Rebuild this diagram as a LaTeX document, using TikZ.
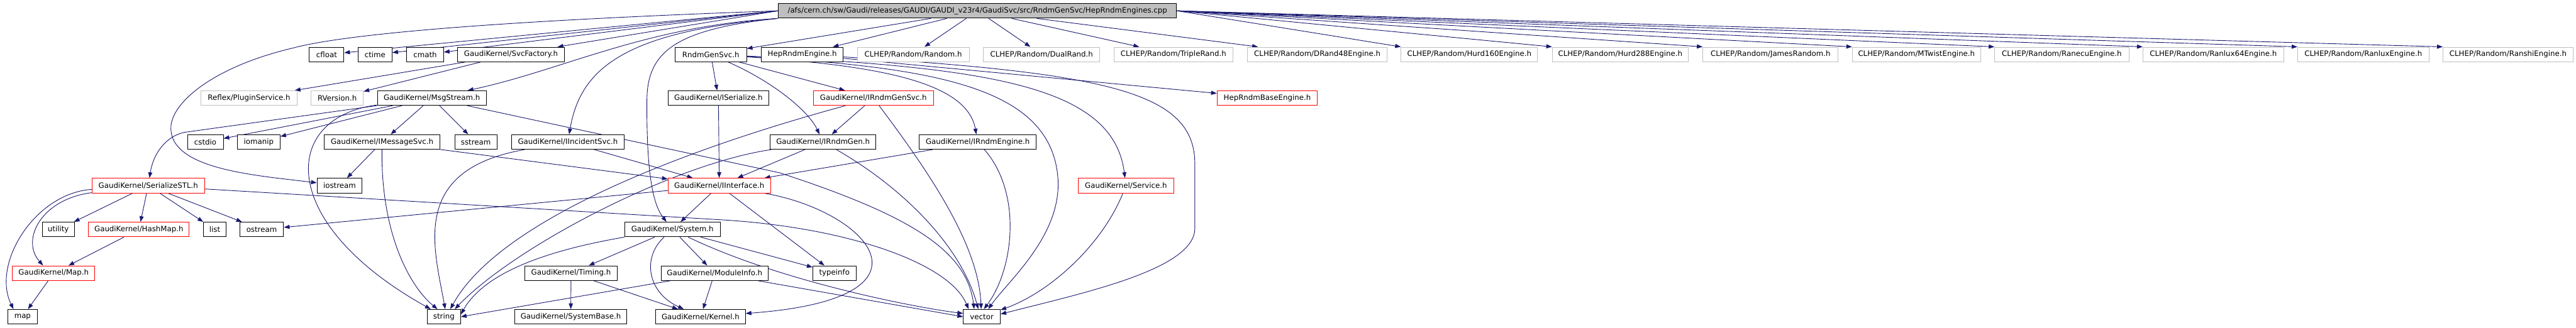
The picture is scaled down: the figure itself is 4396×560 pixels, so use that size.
\documentclass[tikz,border=0pt]{standalone}
\usepackage{fontspec}
\setmainfont{DejaVu Sans}
\usetikzlibrary{arrows.meta}
\definecolor{dxedge}{RGB}{25,25,112}
\definecolor{dxgray}{RGB}{191,191,191}
\definecolor{dxred}{RGB}{255,0,0}
\pgfdeclarelayer{edges}
\pgfsetlayers{edges,main}

\begin{document}
\begin{tikzpicture}[
  x=0.02cm,y=-0.02cm,
  font=\fontsize{7.2}{8}\selectfont,
  dbox/.style={draw=black,line width=0.6pt,minimum height=0.5cm,inner sep=0pt,fill=white},
  rootbox/.style={dbox,fill=dxgray},
  rbox/.style={dbox,draw=dxred},
  gbox/.style={dbox,draw=dxgray},
  wd/.style={minimum width=#1*0.02cm},
  dep/.style={->,draw=dxedge,line width=0.55pt},
  >={Triangle[length=5.5pt,width=4pt]}
]
  \useasboundingbox (0,0) rectangle (4396,560);

  \node[rootbox,wd=680] (root) at (1668,18.5) {/afs/cern.ch/sw/Gaudi/releases/GAUDI/GAUDI\_v23r4/GaudiSvc/src/RndmGenSvc/HepRndmEngines.cpp};

  % first row
  \node[dbox,wd=59]  (cfloat)     at (557.5,93)  {cfloat};
  \node[dbox,wd=58]  (ctime)      at (640,93)    {ctime};
  \node[dbox,wd=63]  (cmath)      at (725.5,93)  {cmath};
  \node[dbox,wd=182] (svcfac)     at (872,93)    {GaudiKernel/SvcFactory.h};
  \node[dbox,wd=122] (rndmsvc)    at (1213,93)   {RndmGenSvc.h};
  \node[dbox,wd=140] (heprndm)    at (1369,93)   {HepRndmEngine.h};
  \node[gbox,wd=191] (random)     at (1558.5,93) {CLHEP/Random/Random.h};
  \node[gbox,wd=199] (dualrand)   at (1777.5,93) {CLHEP/Random/DualRand.h};
  \node[gbox,wd=203] (triplerand) at (2002.5,93) {CLHEP/Random/TripleRand.h};
  \node[gbox,wd=238] (drand48)    at (2248,93)   {CLHEP/Random/DRand48Engine.h};
  \node[gbox,wd=233] (hurd160)    at (2507.5,93) {CLHEP/Random/Hurd160Engine.h};
  \node[gbox,wd=232] (hurd288)    at (2765,93)   {CLHEP/Random/Hurd288Engine.h};
  \node[gbox,wd=231] (james)      at (3021.5,93) {CLHEP/Random/JamesRandom.h};
  \node[gbox,wd=219] (mtwist)     at (3270.5,93) {CLHEP/Random/MTwistEngine.h};
  \node[gbox,wd=229] (ranecu)     at (3518.5,93) {CLHEP/Random/RanecuEngine.h};
  \node[gbox,wd=240] (ranlux64)   at (3777,93)   {CLHEP/Random/Ranlux64Engine.h};
  \node[gbox,wd=224] (ranlux)     at (4033,93)   {CLHEP/Random/RanluxEngine.h};
  \node[gbox,wd=222] (ranshi)     at (4280,93)   {CLHEP/Random/RanshiEngine.h};

  % second row
  \node[gbox,wd=164] (reflex)      at (425,167.5)    {Reflex/PluginService.h};
  \node[gbox,wd=89]  (rversion)    at (575.5,167.5)  {RVersion.h};
  \node[dbox,wd=186] (msgstream)   at (737,167.5)    {GaudiKernel/MsgStream.h};
  \node[dbox,wd=172] (iserialize)  at (1226,167.5)   {GaudiKernel/ISerialize.h};
  \node[rbox,wd=205] (irndmgensvc) at (1490.5,167.5) {GaudiKernel/IRndmGenSvc.h};
  \node[rbox,wd=171] (hepbase)     at (2162.5,167.5) {HepRndmBaseEngine.h};

  % third row
  \node[dbox,wd=61]  (cstdio)      at (350.5,242.5)  {cstdio};
  \node[dbox,wd=73]  (iomanip)     at (441.5,242.5)  {iomanip};
  \node[dbox,wd=198] (imessagesvc) at (652,242.5)    {GaudiKernel/IMessageSvc.h};
  \node[dbox,wd=72]  (sstream)     at (812,242.5)    {sstream};
  \node[dbox,wd=192] (iincident)   at (969,242.5)    {GaudiKernel/IIncidentSvc.h};
  \node[dbox,wd=181] (irndmgen)    at (1404.5,242.5) {GaudiKernel/IRndmGen.h};
  \node[dbox,wd=199] (irndmengine) at (1668.5,242.5) {GaudiKernel/IRndmEngine.h};

  % fourth row
  \node[rbox,wd=192] (serializestl) at (253,317)    {GaudiKernel/SerializeSTL.h};
  \node[dbox,wd=77]  (iostream)     at (579.5,317)  {iostream};
  \node[rbox,wd=175] (iinterface)   at (1227.5,317) {GaudiKernel/IInterface.h};
  \node[rbox,wd=163] (service)      at (1921.5,317) {GaudiKernel/Service.h};

  % fifth row
  \node[dbox,wd=55]  (utility) at (99.5,392)   {utility};
  \node[rbox,wd=172] (hashmap) at (237,392)    {GaudiKernel/HashMap.h};
  \node[dbox,wd=39]  (list)    at (366.5,392)  {list};
  \node[dbox,wd=75]  (ostream) at (446.5,392)  {ostream};
  \node[dbox,wd=163] (system)  at (1147.5,392) {GaudiKernel/System.h};

  % sixth row
  \node[rbox,wd=141] (gkmap)      at (91.5,466.5)   {GaudiKernel/Map.h};
  \node[dbox,wd=157] (timing)     at (974.5,466.5)  {GaudiKernel/Timing.h};
  \node[dbox,wd=183] (moduleinfo) at (1219.5,466.5) {GaudiKernel/ModuleInfo.h};
  \node[dbox,wd=74]  (typeinfo)   at (1424,466.5)   {typeinfo};

  % last row
  \node[dbox,wd=51]  (stlmap)     at (38.5,541)   {map};
  \node[dbox,wd=57]  (string)     at (757.5,541)  {string};
  \node[dbox,wd=192] (systembase) at (974,541)    {GaudiKernel/SystemBase.h};
  \node[dbox,wd=153] (kernel)     at (1195.5,541) {GaudiKernel/Kernel.h};
  \node[dbox,wd=63]  (vector)     at (1675.5,541) {vector};

  \begin{pgfonlayer}{edges}
  % includes of the source file
  \foreach \n in {cfloat,ctime,cmath,svcfac}
    \draw[dep] (root.west) -- (\n);
  \foreach \n in {rndmsvc,heprndm,random,dualrand,triplerand,drand48}
    \draw[dep] (root) -- (\n);
  \foreach \n in {hurd160,hurd288,james,mtwist,ranecu,ranlux64,ranlux,ranshi}
    \draw[dep] (root.east) -- (\n.north west);
  \draw[dep] (root.west) .. controls (1000,30) and (620,50) .. (500,82)
    .. controls (360,115) and (285,180) .. (292,225)
    .. controls (300,290) and (440,300) .. (iostream);
  \draw[dep] (root.south west) .. controls (1100,45) and (960,120) .. (msgstream);
  \draw[dep] (root.south west) .. controls (1060,55) and (990,120) .. (iincident);
  \draw[dep] (root.south west) .. controls (1150,50) and (1105,90) .. (1104,170)
    .. controls (1103,300) and (1115,350) .. (system);

  \draw[dep] (svcfac) -- (reflex);
  \draw[dep] (svcfac) -- (rversion);

  \foreach \n in {cstdio,iomanip,imessagesvc,sstream}
    \draw[dep] (msgstream) -- (\n);
  \draw[dep] (msgstream) -- (315,226) .. controls (285,232) and (262,260) .. (serializestl);
  \draw[dep] (msgstream) .. controls (480,200) and (470,380) .. (string.150);
  \draw[dep] (msgstream) -- (1330,295) .. controls (1560,370) and (1650,430) .. (vector.135);

  \draw[dep] (imessagesvc) -- (iostream);
  \draw[dep] (imessagesvc) .. controls (650,400) and (700,490) .. (string.130);
  \draw[dep] (imessagesvc) -- (iinterface);
  \draw[dep] (iincident) .. controls (700,290) and (740,420) .. (string.80);
  \draw[dep] (iincident) -- (iinterface);
  \draw[dep] (iserialize) -- (iinterface);

  % RndmGenSvc.h and HepRndmEngine.h
  \draw[dep] (rndmsvc) -- (iserialize);
  \draw[dep] (rndmsvc) -- (irndmgensvc);
  \draw[dep] (rndmsvc) .. controls (1320,140) and (1380,190) .. (irndmgen);
  \draw[dep] (rndmsvc) .. controls (1500,112) and (1650,140) .. (irndmengine);
  \draw[dep] (rndmsvc) .. controls (1700,115) and (1900,150) .. (service);
  \draw[dep] (rndmsvc) .. controls (1600,115) and (1790,150) .. (1805,300)
    .. controls (1815,400) and (1720,480) .. (vector.50);
  \draw[dep] (heprndm) -- (hepbase);
  \draw[dep] (heprndm) .. controls (1900,125) and (2039,160) .. (2039,280) -- (2039,390)
    .. controls (2039,460) and (1850,500) .. (vector.8);

  \draw[dep] (irndmgensvc) -- (irndmgen);
  \draw[dep] (irndmgensvc) .. controls (1150,260) and (850,380) .. (string.50);
  \draw[dep] (irndmgensvc) .. controls (1590,300) and (1670,420) .. (vector.95);
  \draw[dep] (irndmgen) -- (iinterface);
  \draw[dep] (irndmgen) .. controls (1150,280) and (880,420) .. (string.35);
  \draw[dep] (irndmgen) .. controls (1540,320) and (1640,420) .. (vector.115);
  \draw[dep] (irndmengine) -- (iinterface);
  \draw[dep] (irndmengine) .. controls (1745,330) and (1730,460) .. (vector.75);
  \draw[dep] (service) .. controls (1880,420) and (1790,500) .. (vector.20);

  % SerializeSTL.h
  \foreach \n in {utility,hashmap,list,ostream}
    \draw[dep] (serializestl) -- (\n);
  \draw[dep] (serializestl) .. controls (70,340) and (35,410) .. (gkmap.144);
  \draw[dep] (serializestl) .. controls (60,330) and (-15,450) .. (stlmap.140);
  \draw[dep] (serializestl) -- (1240,376) .. controls (1450,390) and (1620,450) .. (vector.150);
  \draw[dep] (hashmap) -- (gkmap);
  \draw[dep] (gkmap) -- (stlmap);

  % IInterface.h and System.h
  \draw[dep] (iinterface) -- (ostream);
  \draw[dep] (iinterface) -- (system);
  \draw[dep] (iinterface) -- (typeinfo);
  \draw[dep] (iinterface) .. controls (1480,360) and (1620,510) .. (kernel);
  \foreach \n in {timing,moduleinfo,typeinfo}
    \draw[dep] (system) -- (\n);
  \draw[dep] (system) .. controls (1095,440) and (1105,500) .. (kernel);
  \draw[dep] (system.south west) .. controls (950,425) and (830,460) .. (string.8);
  \draw[dep] (system) .. controls (1330,480) and (1560,525) .. (vector.170);
  \draw[dep] (timing) -- (systembase);
  \draw[dep] (timing) -- (kernel);
  \draw[dep] (moduleinfo) -- (kernel);
  \draw[dep] (moduleinfo) -- (string.east);
  \draw[dep] (moduleinfo) -- (vector.west);
  \end{pgfonlayer}
\end{tikzpicture}
\end{document}
